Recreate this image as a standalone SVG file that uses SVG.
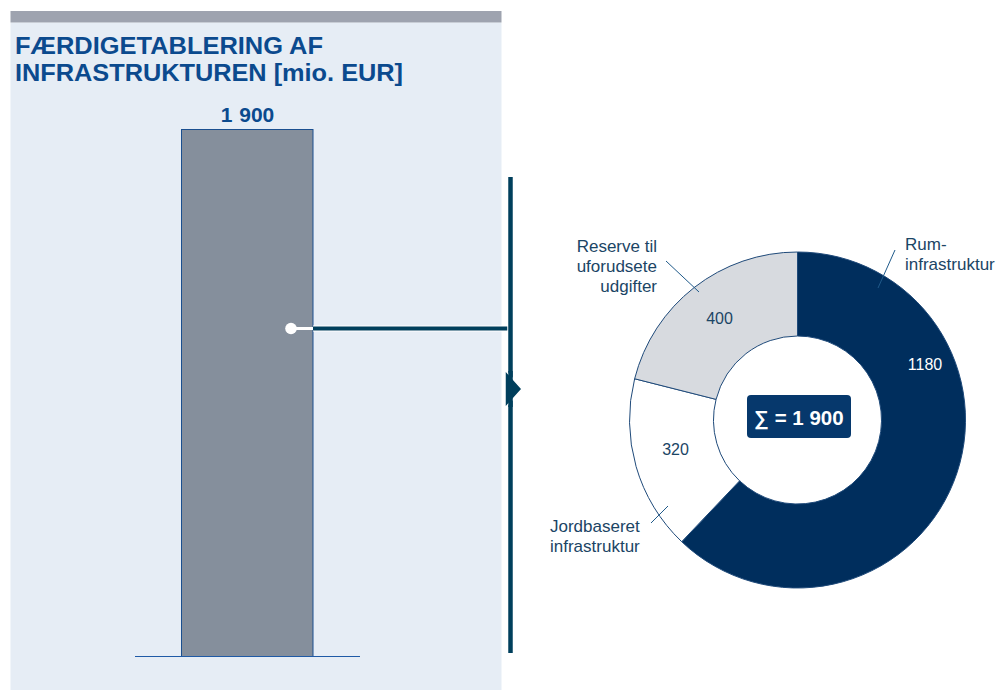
<svg xmlns="http://www.w3.org/2000/svg" width="997" height="690" viewBox="0 0 997 690">
  <style>
    .title { font-family: "Liberation Sans", Arial, sans-serif; font-weight: bold; font-size: 24.5px; fill: #0B4A8E; }
    .val { font-family: "Liberation Sans", Arial, sans-serif; font-weight: bold; font-size: 21px; fill: #0B4A8E; word-spacing: 1px; }
    .lbl { font-family: "Liberation Sans", Arial, sans-serif; font-size: 17px; fill: #1B4565; }
    .num { font-family: "Liberation Sans", Arial, sans-serif; font-size: 16px; fill: #1B4565; }
    .numw { font-family: "Liberation Sans", Arial, sans-serif; font-size: 16px; fill: #FFFFFF; }
    .sum { font-family: "Liberation Sans", Arial, sans-serif; font-weight: bold; font-size: 20.5px; fill: #FFFFFF; }
    .seg { stroke: #1F4A7A; stroke-width: 1; }
    .leader { stroke: #1F5A8A; stroke-width: 1; fill: none; }
  </style>

  <rect width="997" height="690" fill="#FFFFFF"/>

  <g id="panel">
    <rect x="10.5" y="22.5" width="491" height="668" fill="#E6EDF5"/>
    <rect x="10.5" y="11" width="491" height="11.5" fill="#9EA3AF"/>
  </g>

  <g id="title">
    <text class="title" x="15" y="53.5" textLength="308" lengthAdjust="spacingAndGlyphs">FÆRDIGETABLERING AF</text>
    <text class="title" x="15" y="81" textLength="388" lengthAdjust="spacingAndGlyphs">INFRASTRUKTUREN [mio. EUR]</text>
  </g>

  <g id="bar">
    <rect x="181.5" y="129.5" width="131.5" height="527" fill="#858F9C" stroke="#1A4F8F" stroke-width="1"/>
    <line x1="135" y1="656.5" x2="360" y2="656.5" stroke="#1F5AA6" stroke-width="1.2"/>
    <text class="val" x="247.5" y="121.5" text-anchor="middle">1 900</text>
  </g>

  <g id="connectors">
    <line x1="291" y1="328.5" x2="313" y2="328.5" stroke="#FFFFFF" stroke-width="3"/>
    <circle cx="291" cy="328.5" r="5.8" fill="#FFFFFF"/>
    <line x1="313" y1="328.5" x2="510" y2="328.5" stroke="#FFFFFF" stroke-width="6"/>
    <line x1="313" y1="328.5" x2="510" y2="328.5" stroke="#003F5C" stroke-width="4"/>
    <line x1="510.5" y1="177" x2="510.5" y2="653" stroke="#FFFFFF" stroke-width="6.5"/>
    <line x1="510.5" y1="177" x2="510.5" y2="653" stroke="#003F5C" stroke-width="4.5"/>
    <polygon points="505,370 522,389 505,408" fill="#003F5C" stroke="#FFFFFF" stroke-width="1.5" stroke-linejoin="miter"/>
    <line x1="510.5" y1="371" x2="510.5" y2="407" stroke="#003F5C" stroke-width="4.5"/>
  </g>

  <g id="donut">
    <g id="seg-rum">
      <path class="seg" d="M 797.5 252 A 168 168 0 1 1 681.7 541.7 L 739.6 480.85 A 84 84 0 1 0 797.5 336 Z" fill="#002E5D" stroke="#002E5D"/>
    </g>
    <g id="seg-jord">
      <path class="seg" d="M 681.7 541.7 A 168 168 0 0 1 634.64 378.76 L 716.07 399.38 A 84 84 0 0 0 739.6 480.85 Z" fill="#FFFFFF"/>
    </g>
    <g id="seg-reserve">
      <path class="seg" d="M 634.64 378.76 A 168 168 0 0 1 797.5 252 L 797.5 336 A 84 84 0 0 0 716.07 399.38 Z" fill="#D7DADF"/>
    </g>
    <text class="numw" x="925" y="370" text-anchor="middle">1180</text>
    <text class="num" x="719.5" y="324" text-anchor="middle">400</text>
    <text class="num" x="675.5" y="455" text-anchor="middle">320</text>
  </g>

  <g id="sum">
    <rect x="747" y="395" width="104" height="43" rx="4" ry="4" fill="#06386C"/>
    <text class="sum" x="799" y="425" text-anchor="middle">∑ = 1 900</text>
  </g>

  <g id="label-rum">
    <line class="leader" x1="895" y1="250" x2="878" y2="288"/>
    <text class="lbl" x="905" y="250">Rum-</text>
    <text class="lbl" x="905" y="270">infrastruktur</text>
  </g>

  <g id="label-reserve">
    <line class="leader" x1="666" y1="261" x2="699" y2="292"/>
    <text class="lbl" x="657" y="252" text-anchor="end">Reserve til</text>
    <text class="lbl" x="657" y="272" text-anchor="end">uforudsete</text>
    <text class="lbl" x="657" y="292" text-anchor="end">udgifter</text>
  </g>

  <g id="label-jord">
    <line class="leader" x1="651" y1="523" x2="668" y2="506"/>
    <text class="lbl" x="550" y="532">Jordbaseret</text>
    <text class="lbl" x="550" y="552">infrastruktur</text>
  </g>
</svg>
